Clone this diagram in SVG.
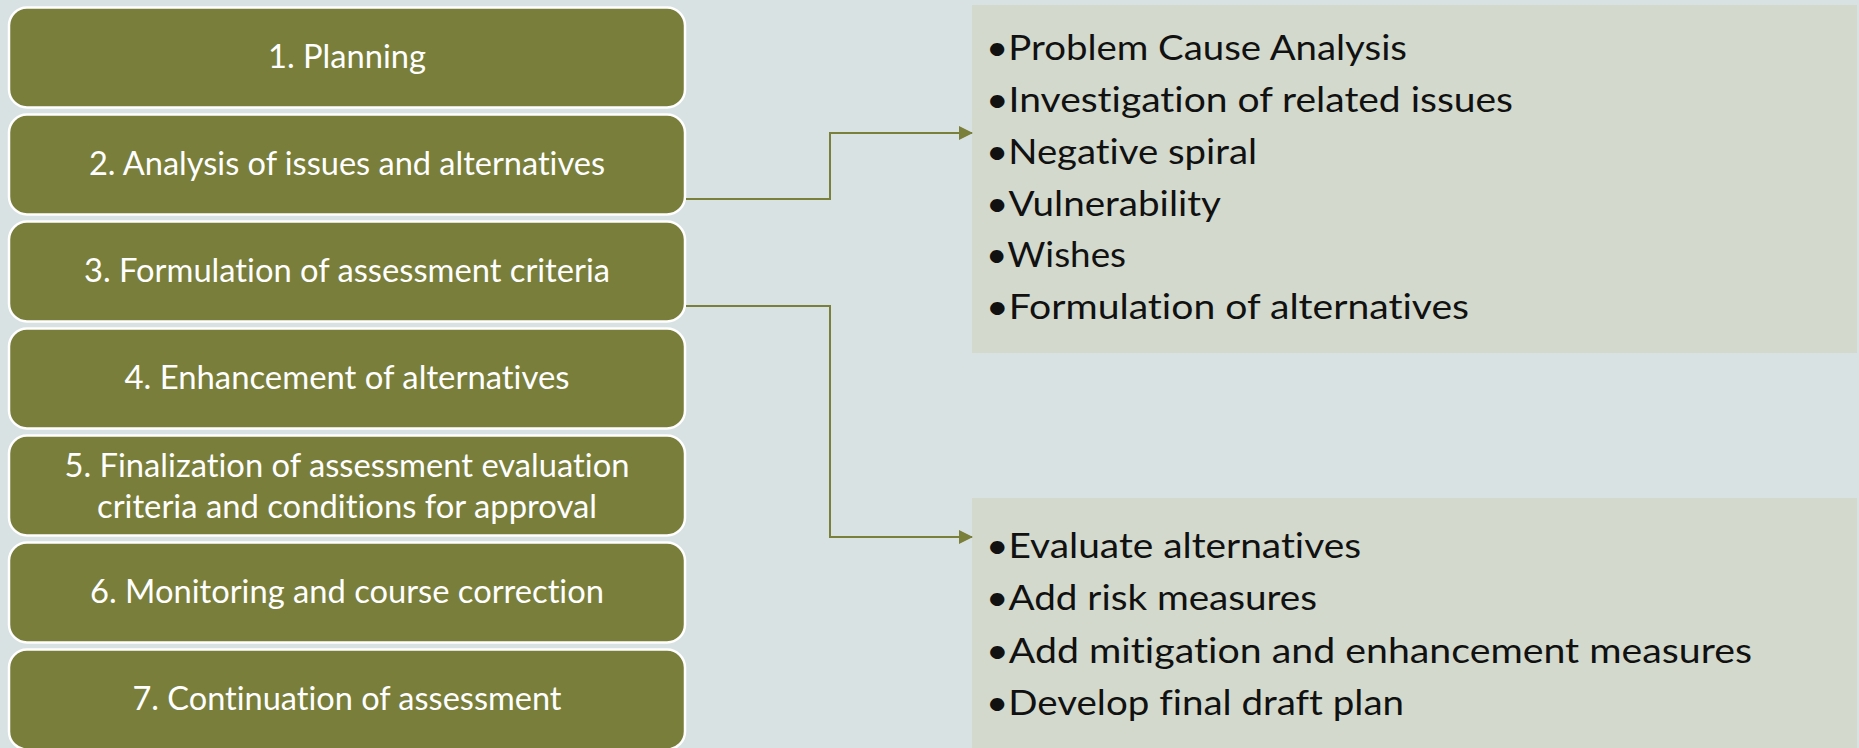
<svg xmlns="http://www.w3.org/2000/svg" width="1859" height="748" viewBox="0 0 1859 748">
<defs>
<style>
.box{fill:#797E3A;stroke:#FFFFFF;stroke-width:2.5}
.bt{font-family:Lato,"Open Sans","Liberation Sans",sans-serif;font-size:33px;fill:#FFFFFF;text-anchor:middle;font-variant-ligatures:none;font-feature-settings:"liga" 0,"dlig" 0}
.panel{fill:#D3D9CD}
.pt{font-family:Lato,"Open Sans","Liberation Sans",sans-serif;font-size:35px;fill:#111111;font-variant-ligatures:none;font-feature-settings:"liga" 0,"dlig" 0}
.conn{fill:none;stroke:#7A7F3A;stroke-width:2}
</style>
<marker id="arr" markerWidth="14" markerHeight="14" refX="13" refY="7" orient="auto" markerUnits="userSpaceOnUse">
<path d="M0,0 L14,7 L0,14 Z" fill="#7A7F3A"/>
</marker>
</defs>
<rect x="0" y="0" width="1859" height="748" fill="#D9E2E3"/>

<g id="panel-analysis">
<rect class="panel" x="972" y="5" width="885" height="348"/>
<text class="pt" x="986" y="60" textLength="421" lengthAdjust="spacingAndGlyphs">•Problem Cause Analysis</text>
<text class="pt" x="986" y="112" textLength="527" lengthAdjust="spacingAndGlyphs">•Investigation of related issues</text>
<text class="pt" x="986" y="163.5" textLength="271" lengthAdjust="spacingAndGlyphs">•Negative spiral</text>
<text class="pt" x="986" y="215.5" textLength="235" lengthAdjust="spacingAndGlyphs">•Vulnerability</text>
<text class="pt" x="986" y="267" textLength="140" lengthAdjust="spacingAndGlyphs">•Wishes</text>
<text class="pt" x="986" y="319" textLength="483" lengthAdjust="spacingAndGlyphs">•Formulation of alternatives</text>
</g>

<g id="panel-criteria">
<rect class="panel" x="972" y="498" width="885" height="260"/>
<text class="pt" x="986" y="558" textLength="375" lengthAdjust="spacingAndGlyphs">•Evaluate alternatives</text>
<text class="pt" x="986" y="610" textLength="331" lengthAdjust="spacingAndGlyphs">•Add risk measures</text>
<text class="pt" x="986" y="663" textLength="766" lengthAdjust="spacingAndGlyphs">•Add mitigation and enhancement measures</text>
<text class="pt" x="986" y="715" textLength="418" lengthAdjust="spacingAndGlyphs">•Develop final draft plan</text>
</g>

<g id="step1">
<rect class="box" x="9" y="7.5" width="676" height="100" rx="18"/>
<text class="bt" x="347" y="67.5" textLength="158" lengthAdjust="spacingAndGlyphs">1. Planning</text>
</g>
<g id="step2">
<rect class="box" x="9" y="114.5" width="676" height="100" rx="18"/>
<text class="bt" x="347" y="174.5" textLength="516" lengthAdjust="spacingAndGlyphs">2. Analysis of issues and alternatives</text>
</g>
<g id="step3">
<rect class="box" x="9" y="221.5" width="676" height="100" rx="18"/>
<text class="bt" x="347" y="281.5" textLength="526" lengthAdjust="spacingAndGlyphs">3. Formulation of assessment criteria</text>
</g>
<g id="step4">
<rect class="box" x="9" y="328.5" width="676" height="100" rx="18"/>
<text class="bt" x="347" y="388.5" textLength="445" lengthAdjust="spacingAndGlyphs">4. Enhancement of alternatives</text>
</g>
<g id="step5">
<rect class="box" x="9" y="435.5" width="676" height="100" rx="18"/>
<text class="bt" x="347" y="477" textLength="565" lengthAdjust="spacingAndGlyphs">5. Finalization of assessment evaluation</text>
<text class="bt" x="347" y="518" textLength="500" lengthAdjust="spacingAndGlyphs">criteria and conditions for approval</text>
</g>
<g id="step6">
<rect class="box" x="9" y="542.5" width="676" height="100" rx="18"/>
<text class="bt" x="347" y="602.5" textLength="514" lengthAdjust="spacingAndGlyphs">6. Monitoring and course correction</text>
</g>
<g id="step7">
<rect class="box" x="9" y="649.5" width="676" height="100" rx="18"/>
<text class="bt" x="347" y="709.5" textLength="429" lengthAdjust="spacingAndGlyphs">7. Continuation of assessment</text>
</g>

<g id="connectors">
<path class="conn" d="M686,199 H830 V133 H972" marker-end="url(#arr)"/>
<path class="conn" d="M686,306 H830 V537 H972" marker-end="url(#arr)"/>
</g>
</svg>
